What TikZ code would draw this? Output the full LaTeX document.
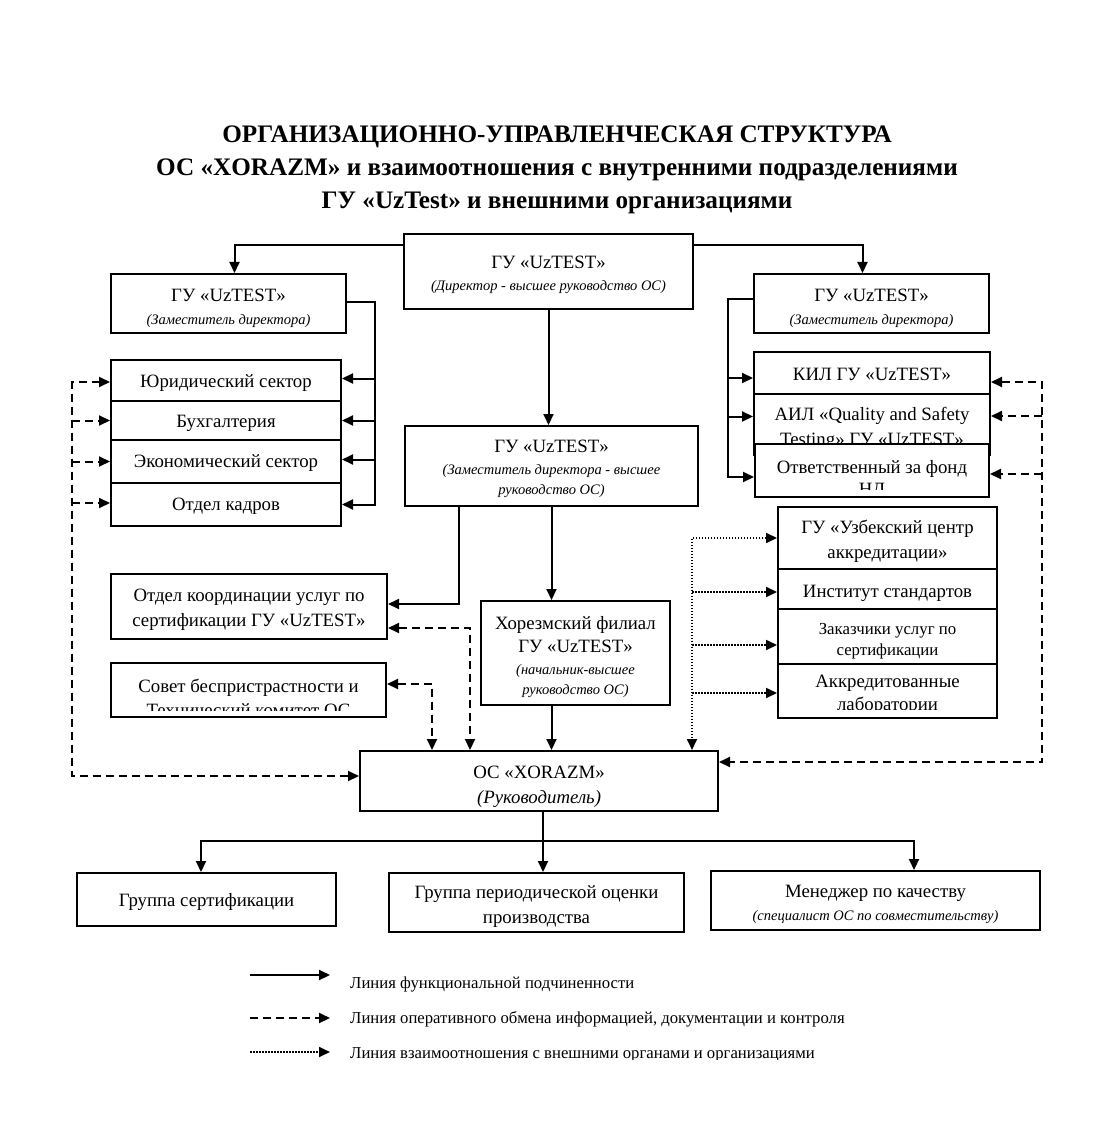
\documentclass[tikz,border=0pt]{standalone}
\usepackage{fontspec}
\setmainfont{Liberation Serif}
\usetikzlibrary{arrows.meta,calc}
\newcommand\subtx[1]{{\fontsize{14.5}{\baselineskip}\selectfont\itshape #1}}
\begin{document}
\begin{tikzpicture}[x=1pt,y=-1pt,
  box/.style={draw, line width=2pt, inner sep=0pt, fill=white},
  txt/.style={inner sep=0pt, align=center, font=\fontsize{18.8}{#1}\selectfont},
  txt/.default=23,
  ln/.style={line width=2pt},
  tipe/.style={-{Triangle[length=11pt,width=10pt]}},
  tipb/.style={{Triangle[length=11pt,width=10pt]}-{Triangle[length=11pt,width=10pt]}},
  fl/.style={ln, tipe},
  dl/.style={line width=2pt, dash pattern=on 8pt off 5pt},
  dt/.style={line width=1.7pt, dash pattern=on 1.6pt off 1.4pt},
  legt/.style={anchor=west, inner sep=0pt, font=\fontsize{16.7}{20}\selectfont},
]
\useasboundingbox (0,0) rectangle (1108,1139);

% title
\node[font=\fontsize{25.2}{33}\selectfont\bfseries, align=center] (title) at (557,170)
  {ОРГАНИЗАЦИОННО-УПРАВЛЕНЧЕСКАЯ СТРУКТУРА\\ОС «XORAZM» и взаимоотношения с внутренними подразделениями\\ГУ «UzTest» и внешними организациями};

% top level
\node[box, minimum width=289, minimum height=75] (dir) at (548.5,271.5) {};
\node[txt=22] (dirT) at (548.5,275) {ГУ «UzTEST»\\\subtx{(Директор - высшее руководство ОС)}};
\node[box, minimum width=235, minimum height=59] (depL) at (228.5,303.5) {};
\node[txt] (depLT) at (228.5,308.5) {ГУ «UzTEST»\\\subtx{(Заместитель директора)}};
\node[box, minimum width=235, minimum height=59] (depR) at (871.5,303.5) {};
\node[txt] (depRT) at (871.5,308.5) {ГУ «UzTEST»\\\subtx{(Заместитель директора)}};

% left stack
\node[box, minimum width=230, minimum height=41] (jur) at (226,380.5) {};
\node[txt] (jurT) at (226,383.5) {Юридический сектор};
\node[box, minimum width=230, minimum height=39] (buh) at (226,420.5) {};
\node[txt] (buhT) at (226,423.5) {Бухгалтерия};
\node[box, minimum width=230, minimum height=43] (eco) at (226,461.5) {};
\node[txt] (ecoT) at (226,463.5) {Экономический сектор};
\node[box, minimum width=230, minimum height=43] (kadr) at (226,504.5) {};
\node[txt] (kadrT) at (226,506.5) {Отдел кадров};

% right stack
\node[box, minimum width=236, minimum height=42] (kil) at (872,373) {};
\node[txt] (kilT) at (872,374.5) {КИЛ ГУ «UzTEST»};
\node[box, minimum width=236, minimum height=61] (ail) at (872,424.5) {};
\node[txt=25] (ailT) at (872,428.5) {АИЛ «Quality and Safety\\Testing» ГУ «UzTEST»};
\node[box, minimum width=234, minimum height=53] (otv) at (872,470.5) {};
\begin{scope}
  \clip ([yshift=9]otv.south west) rectangle (otv.north east);
  \node[txt=21.5] (otvT) at (872,479.8) {Ответственный за фонд\\НД};
\end{scope}

% middle
\node[box, minimum width=293, minimum height=80] (dep2) at (551.5,466) {};
\node[txt=21] (dep2T) at (551.5,469) {ГУ «UzTEST»\\[1pt]\subtx{(Заместитель директора - высшее}\\[-1pt]\subtx{руководство ОС)}};
\node[box, minimum width=276, minimum height=65] (koord) at (249,606.5) {};
\node[txt=25] (koordT) at (249,609.5) {Отдел координации услуг по\\сертификации ГУ «UzTEST»};
\node[box, minimum width=275, minimum height=54] (sovet) at (248.5,690) {};
\begin{scope}
  \clip ([yshift=8]sovet.south west) rectangle (sovet.north east);
  \node[txt=24] (sovetT) at (248.5,697.5) {Совет беспристрастности и\\Технический комитет ОС};
\end{scope}
\node[box, minimum width=189, minimum height=104] (khor) at (575.5,653) {};
\node[txt=22] (khorT) at (575.5,657) {Хорезмский филиал\\[1pt]ГУ «UzTEST»\\\subtx{(начальник-высшее}\\[-2pt]\subtx{руководство ОС)}};
\node[box, minimum width=358, minimum height=60] (os) at (539,781) {};
\node[txt=25] (osT) at (539,786.5) {ОС «XORAZM»\\{\itshape (Руководитель)}};

% external
\node[box, minimum width=219, minimum height=62] (uzb) at (887.5,538) {};
\node[txt=25] (uzbT) at (887.5,541.5) {ГУ «Узбекский центр\\аккредитации»};
\node[box, minimum width=219, minimum height=40] (inst) at (887.5,589) {};
\node[txt] (instT) at (887.5,593) {Институт стандартов};
\node[box, minimum width=219, minimum height=55] (zak) at (887.5,636.5) {};
\begin{scope}
  \clip ([yshift=7]zak.south west) rectangle (zak.north east);
  \node[txt, font=\fontsize{16.8}{21}\selectfont] (zakT) at (887.5,641) {Заказчики услуг по\\сертификации};
\end{scope}
\node[box, minimum width=219, minimum height=54] (akk) at (887.5,691) {};
\begin{scope}
  \clip ([yshift=10]akk.south west) rectangle (akk.north east);
  \node[txt=22.5] (akkT) at (887.5,695) {Аккредитованные\\лаборатории};
\end{scope}

% bottom
\node[box, minimum width=259, minimum height=53] (grcert) at (206.5,899.5) {};
\node[txt] (grcertT) at (206.5,901.5) {Группа сертификации};
\node[box, minimum width=295, minimum height=59] (grper) at (536.5,902.5) {};
\begin{scope}
  \clip ([yshift=7]grper.south west) rectangle (grper.north east);
  \node[txt=25] (grperT) at (536.5,906.5) {Группа периодической оценки\\производства};
\end{scope}
\node[box, minimum width=329, minimum height=59] (men) at (875.5,900.5) {};
\node[txt] (menT) at (875.5,904.5) {Менеджер по качеству\\\subtx{(специалист ОС по совместительству)}};

% ---- connectors ----
\draw[fl] ([yshift=-12]dir.north west) -| ([xshift=6]depL.north);
\draw[fl] ([yshift=-12]dir.north east) -| ([xshift=-9]depR.north);
\draw[fl] (dir.south) -- (dir.south |- dep2.north);

\coordinate (busL) at (375,0);
\draw[fl] ([yshift=1.5]depL.east) -| (busL |- kadr.east) -- (kadr.east);
\draw[fl] ($(busL |- jur.east)+(0,-2)$) -- ($(jur.east)+(0,-2)$);
\draw[fl] (busL |- buh.east) -- (buh.east);
\draw[fl] ($(busL |- eco.east)+(0,-2)$) -- ($(eco.east)+(0,-2)$);

\coordinate (busR) at (728,0);
\draw[fl] ($(depR.west)+(0,-4.5)$) -| ($(busR |- otv.west)+(0,6.5)$) -- ($(otv.west)+(0,6.5)$);
\draw[fl] ($(busR |- kil.west)+(0,5)$) -- ($(kil.west)+(0,5)$);
\draw[fl] ($(busR |- ail.west)+(0,-8)$) -- ($(ail.west)+(0,-8)$);

\draw[fl] ($(dep2.south)+(-92.5,0)$) |- ($(koord.east)+(0,-2.5)$);
\draw[fl] (dep2.south) -- (dep2.south |- khor.north);
\draw[fl] (khor.south -| dep2.south) -- (dep2.south |- os.north);

\draw[dl, tipb] ($(koord.east)+(0,21.5)$) -| ($(os.north)+(-69,0)$);
\draw[dl, tipb] ($(sovet.east)+(0,-6)$) -| ($(os.north)+(-107,0)$);

\coordinate (busD) at (72,0);
\draw[dl, tipb] ($(jur.west)+(0,1.5)$) -- ($(busD |- jur.west)+(0,1.5)$) |- ($(os.west)+(0,-5)$);
\draw[dl, tipe] (busD |- buh.west) -- (buh.west);
\draw[dl, tipe] (busD |- eco.west) -- (eco.west);
\draw[dl, tipe] ($(busD |- kadr.west)+(0,-1.5)$) -- ($(kadr.west)+(0,-1.5)$);

\coordinate (busE) at (1042,0);
\draw[dl, tipb] ($(kil.east)+(0,9)$) -- ($(busE |- kil.east)+(0,9)$) |- ($(os.east)+(0,-19)$);
\draw[dl, tipe] ($(busE |- ail.east)+(0,-8.5)$) -- ($(ail.east)+(0,-8.5)$);
\draw[dl, tipe] ($(busE |- otv.east)+(0,3.5)$) -- ($(otv.east)+(0,3.5)$);

\coordinate (busX) at (692,0);
\draw[dt, tipb] (uzb.west) -- (busX |- uzb.west) -- (busX |- os.north);
\draw[dt, tipe] ($(busX |- inst.west)+(0,3)$) -- ($(inst.west)+(0,3)$);
\draw[dt, tipe] ($(busX |- zak.west)+(0,8.5)$) -- ($(zak.west)+(0,8.5)$);
\draw[dt, tipe] ($(busX |- akk.west)+(0,2)$) -- ($(akk.west)+(0,2)$);

\draw[fl] ($(os.south)+(4,0)$) -- ($(os.south |- grper.north)+(4,0)$);
\coordinate (j1) at (201,841);
\coordinate (j2) at (914,841);
\draw[ln, tipb] (j1 |- grcert.north) -- (j1) -- (j2) -- (j2 |- men.north);

% legend
\coordinate (l1a) at (250,975); \coordinate (l1b) at (330,975);
\coordinate (l2a) at (250,1018); \coordinate (l2b) at (330,1018);
\coordinate (l3a) at (250,1052); \coordinate (l3b) at (330,1052);
\draw[fl] (l1a) -- (l1b);
\draw[dl, tipe] (l2a) -- (l2b);
\draw[dt, tipe] (l3a) -- (l3b);
\node[legt] (l1t) at (350,984) {Линия функциональной подчиненности};
\node[legt] (l2t) at (350,1019) {Линия оперативного обмена информацией, документации и контроля};
\begin{scope}
  \clip (340,1040) rectangle (900,1059);
  \node[legt] (l3t) at (350,1055) {Линия взаимоотношения с внешними органами и организациями};
\end{scope}
\end{tikzpicture}
\end{document}
